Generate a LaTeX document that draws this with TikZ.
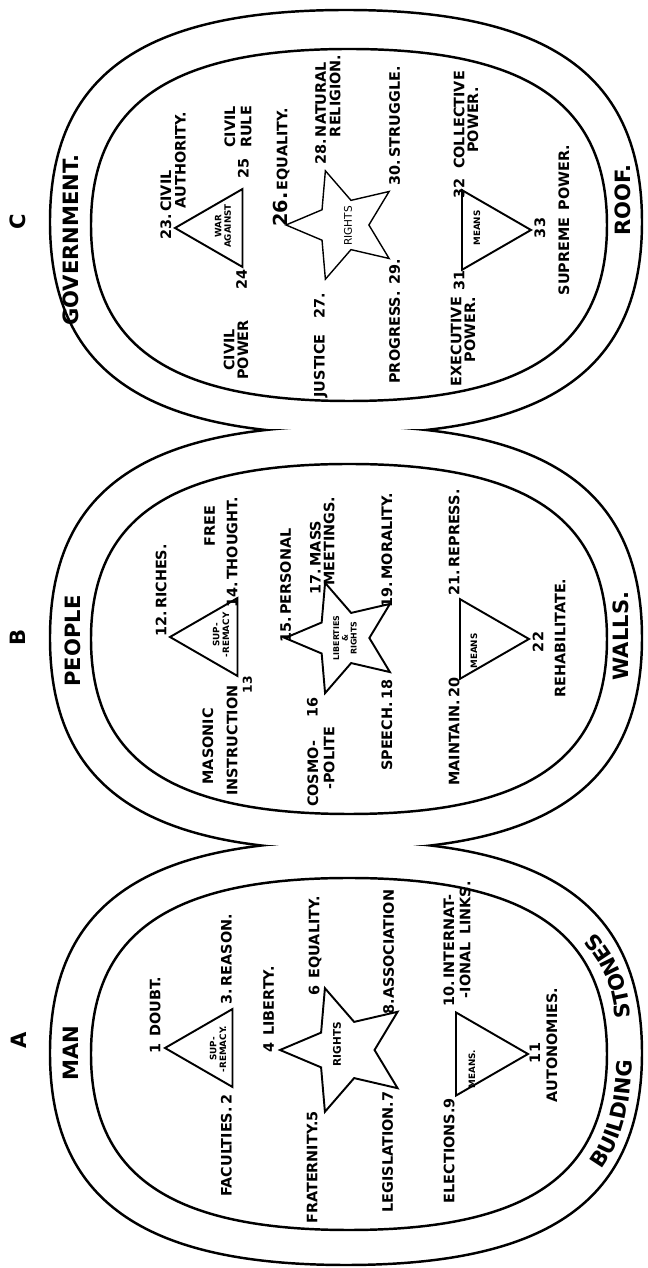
\documentclass[tikz,border=0pt]{standalone}
\usepackage{fontspec}
\setmainfont{DejaVu Sans}
\usetikzlibrary{shapes.geometric, calc, decorations.text}

% rounded cell outline: centre x, centre y, half width, half height
\newcommand{\roundcell}[4]{%
  (#1+#3,#2) .. controls (#1+#3,#2+0.69*#4) and (#1+0.69*#3,#2+#4) .. (#1,#2+#4)
  .. controls (#1-0.69*#3,#2+#4) and (#1-#3,#2+0.69*#4) .. (#1-#3,#2)
  .. controls (#1-#3,#2-0.69*#4) and (#1-0.69*#3,#2-#4) .. (#1,#2-#4)
  .. controls (#1+0.69*#3,#2-#4) and (#1+#3,#2-0.69*#4) .. (#1+#3,#2) -- cycle}

\tikzset{
  ring/.style={line width=1.4pt},
  fig/.style={draw, line width=1.1pt, inner sep=0pt},
  tri/.style={fig, regular polygon, regular polygon sides=3},
  fivestar/.style={fig, star, star points=5, star point ratio=2.2},
  lbl/.style={font=\bfseries\fontsize{8.2}{9.3}\selectfont, inner sep=1pt},
  tiny/.style={font=\bfseries\fontsize{5}{5.5}\selectfont, align=center, inner sep=0pt},
  head/.style={font=\bfseries\fontsize{12}{13}\selectfont, inner sep=1pt},
}

\begin{document}
\begin{tikzpicture}[x=0.02cm, y=0.02cm, rotate=90, transform shape]
  \useasboundingbox (0,0) rectangle (1268,648);

  % outer cells, cut where they meet
  \begin{scope}
    \clip (-10,-10) rectangle (422.5,660);
    \draw[ring] \roundcell{215}{302}{212}{296};
  \end{scope}
  \begin{scope}
    \clip (422.5,-10) rectangle (838,660);
    \draw[ring] \roundcell{630}{302}{212}{296};
  \end{scope}
  \begin{scope}
    \clip (838,-10) rectangle (1280,660);
    \draw[ring] \roundcell{1046}{302}{212}{296};
  \end{scope}
  % inner cells
  \draw[ring] \roundcell{214}{299}{176}{258};
  \draw[ring] \roundcell{629}{299}{175}{258};
  \draw[ring] \roundcell{1043}{299}{176}{258};

  % ---- A : man
  \node[head] (letA) at (228,629) {A};
  \node[head] (man) at (215,577) {MAN};
  \path[decorate, decoration={text along path, text align=center,
      text={|\bfseries\fontsize{12}{13}\selectfont|BUILDING}}]
    (86,57) .. controls (120,25) and (160,16) .. (224,16);
  \path[decorate, decoration={text along path, text align=center,
      text={|\bfseries\fontsize{12}{13}\selectfont|STONES}}]
    (244,17) .. controls (280,18) and (315,30) .. (340,58);
  % supremacy
  \node[tri, minimum size=1.8cm] (ta1) at (220,438) {};
  \node[tiny] (supA) at (219,430) {SUP-\\-REMACY.};
  \node[lbl, anchor=west] (doubt) at ($(ta1.corner 1)+(-8,8)$) {1\enspace DOUBT.};
  \node[lbl, anchor=east] (facult) at ($(ta1.corner 2)+(-4,7)$) {FACULTIES.\,2};
  \node[lbl, anchor=west] (reason) at ($(ta1.corner 3)+(1,7)$) {3.\,REASON.};
  % rights
  \node[fivestar, minimum size=2.6cm] (sa) at (218,303) {};
  \node[font=\bfseries\fontsize{6}{6}\selectfont, inner sep=0pt] (rightsA) at (224,311) {RIGHTS};
  \node[lbl, anchor=west] (liberty) at ($(sa.outer point 1)+(-5,9)$) {4\enspace LIBERTY.};
  \node[lbl, anchor=east] (fratern) at ($(sa.outer point 2)+(5,12)$) {FRATERNITY.5};
  \node[lbl, anchor=west] (equalA) at ($(sa.outer point 5)+(-12,9)$) {6\enspace EQUALITY.};
  \node[lbl, anchor=east] (legis) at ($(sa.outer point 3)+(0,12)$) {LEGISLATION.7};
  \node[lbl, anchor=west] (assoc) at ($(sa.outer point 4)+(-6,11)$) {8.ASSOCIATION};
  % means
  \node[tri, shape border rotate=180, minimum size=1.92cm] (ta3) at (214,168) {};
  \node[tiny] (meansA) at (199,176) {MEANS.};
  \node[lbl, anchor=east] (elect) at ($(ta3.corner 3)+(1,6)$) {ELECTIONS.9};
  \node[lbl, anchor=west, align=left] (intern) at ($(ta3.corner 2)+(2,-2)$)
    {10.\,INTERNAT-\\\hspace*{0.6em}-IONAL\enspace LINKS.};
  \node[lbl] (elevenA) at (215,113) {11};
  \node[lbl] (auton) at (223,96) {AUTONOMIES.};

  % ---- B : people
  \node[head] (letB) at (631,630) {B};
  \node[head] (people) at (627,575) {PEOPLE};
  \node[head] (walls) at (632,27) {WALLS.};
  % supremacy
  \node[tri, minimum size=1.8cm] (tb1) at (631,433) {};
  \node[tiny] (supB) at (633,427) {SUP-\\-REMACY};
  \node[lbl, anchor=west] (riches) at ($(tb1.corner 1)+(-2,7)$) {12.\,RICHES.};
  \node[lbl, anchor=west, align=left] (masonic) at (470,428)
    {\hspace*{0.8em}MASONIC\\[4.5pt]INSTRUCTION};
  \node[font=\bfseries\fontsize{7}{7}\selectfont, inner sep=0pt] (thirteen) at ($(tb1.corner 2)+(-7,-9)$) {13};
  \node[lbl, anchor=east, align=right] (thought) at (773,427)
    {FREE\hspace*{0.6em}\\[3.5pt]14.\,THOUGHT.};
  % liberties and rights
  \node[fivestar, minimum size=2.32cm] (sb) at (630,305) {};
  \node[tiny, font=\bfseries\fontsize{4.5}{5}\selectfont] (libB) at (630,303) {LIBERTIES\\\&\\RIGHTS};
  \node[lbl, anchor=west] (personal) at ($(sb.outer point 1)+(-7,-3)$) {15.\,PERSONAL};
  \node[lbl, anchor=west, align=left] (cosmo) at (459,327) {COSMO-\\\hspace*{1.2em}-POLITE};
  \node[lbl] (sixteen) at ($(sb.outer point 2)+(-12,12)$) {16};
  \node[lbl, anchor=west, align=left] (mass) at ($(sb.outer point 5)+(-16,2)$)
    {17.\,MASS\\[-1.5pt]\hspace*{0.6em}MEETINGS.};
  \node[lbl, anchor=east] (speech) at ($(sb.outer point 3)+(-4,5)$) {SPEECH.\,18};
  \node[lbl, anchor=west] (moral) at ($(sb.outer point 4)+(-7,5)$) {19.\,MORALITY.};
  % means
  \node[tri, shape border rotate=180, minimum size=1.84cm] (tb3) at (629,165) {};
  \node[tiny] (meansB) at (617,174) {MEANS};
  \node[lbl, anchor=east] (maintain) at ($(tb3.corner 3)+(5,5)$) {MAINTAIN.\,20};
  \node[lbl, anchor=west] (repress) at ($(tb3.corner 2)+(0,5)$) {21.\,REPRESS.};
  \node[lbl] (twentytwo) at (626,110) {22};
  \node[lbl] (rehab) at (630,88) {REHABILITATE.};

  % ---- C : government
  \node[head] (letC) at (1046,630) {C};
  \node[head] (govt) at (1028,577) {GOVERNMENT.};
  \node[head] (roof) at (1068,25) {ROOF.};
  % war against
  \node[tri, minimum size=1.8cm] (tc1) at (1040,428) {};
  \node[tiny] (warC) at (1042,425) {WAR\\AGAINST};
  \node[lbl, anchor=west, align=left] (civauth) at ($(tc1.corner 1)+(-14,0)$)
    {23.\,CIVIL\\[-1pt]\hspace*{2.2em}AUTHORITY.};
  \node[lbl, align=center] (civpow) at (918,412) {CIVIL\\[-1.5pt]POWER};
  \node[lbl] (tf24) at ($(tc1.corner 2)+(-11,2)$) {24};
  \node[lbl] (tf25) at ($(tc1.corner 3)+(19,0)$) {25};
  \node[lbl, align=center] (civrule) at (1141,410) {CIVIL\\RULE};
  % rights
  \node[fivestar, line width=0.8pt, minimum size=2.28cm] (sc) at (1043,305) {};
  \node[font=\mdseries\fontsize{6}{6}\selectfont, inner sep=0pt] (rightsC) at (1042,300) {RIGHTS};
  \node[lbl, anchor=west] (equalC) at ($(sc.outer point 1)+(-4,3)$)
    {{\fontsize{11}{11}\selectfont 26.}\,EQUALITY.};
  \node[lbl, anchor=east] (justice) at ($(sc.outer point 2)+(-10,4)$) {JUSTICE\hspace{1.1em}27.};
  \node[lbl, anchor=west, align=left] (natural) at ($(sc.outer point 5)+(2,-3)$)
    {28.\,NATURAL\\[-1pt]\phantom{28.\,}RELIGION.};
  \node[lbl, anchor=east] (progress) at ($(sc.outer point 3)+(3,-4)$) {PROGRESS.\enspace 29.};
  \node[lbl, anchor=west] (struggle) at ($(sc.outer point 4)+(3,-4)$) {30.\,STRUGGLE.};
  % means
  \node[tri, shape border rotate=180, minimum size=1.84cm] (tc3) at (1038,163) {};
  \node[tiny] (meansC) at (1040,171) {MEANS};
  \node[lbl, anchor=east, align=right] (exec) at (973,185) {EXECUTIVE\\[-1.5pt]POWER.};
  \node[lbl] (tf31) at ($(tc3.corner 3)+(-9,2)$) {31};
  \node[lbl] (tf32) at ($(tc3.corner 2)+(0,2)$) {32};
  \node[lbl, align=center] (collect) at (1148,182) {COLLECTIVE\\[-1.5pt]POWER.};
  \node[lbl] (tf33) at (1040,108) {33};
  \node[lbl] (supreme) at (1048,84) {SUPREME\enspace POWER.};
\end{tikzpicture}
\end{document}
